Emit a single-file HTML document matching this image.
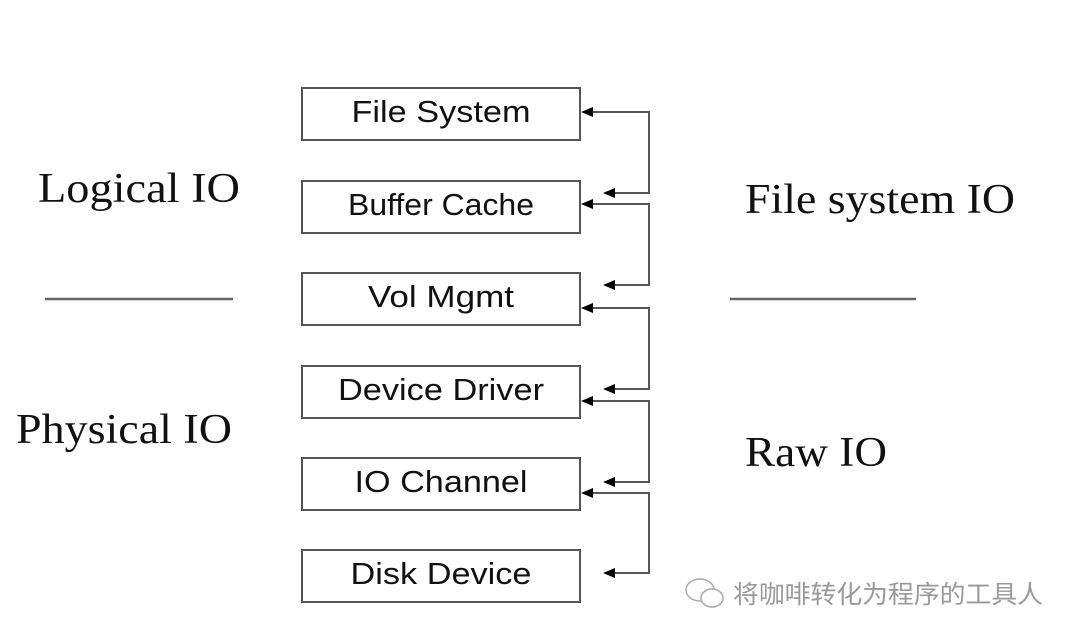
<!DOCTYPE html>
<html><head><meta charset="utf-8"><style>
html,body{margin:0;padding:0;background:#fff;}
svg{display:block;}
</style></head><body>
<svg width="1080" height="642" viewBox="0 0 1080 642" xmlns="http://www.w3.org/2000/svg">
<g fill="#fff" stroke="#555" stroke-width="2">
<rect x="302" y="88" width="278" height="52"/>
<rect x="302" y="181" width="278" height="52"/>
<rect x="302" y="273" width="278" height="52"/>
<rect x="302" y="366" width="278" height="52"/>
<rect x="302" y="458" width="278" height="52"/>
<rect x="302" y="550" width="278" height="52"/>
</g>
<g font-family="Liberation Sans, Arial, sans-serif" font-size="31" fill="#111" text-anchor="middle">
<text x="441" y="122" textLength="179" lengthAdjust="spacingAndGlyphs">File System</text>
<text x="441" y="215" textLength="186" lengthAdjust="spacingAndGlyphs">Buffer Cache</text>
<text x="441" y="307" textLength="146" lengthAdjust="spacingAndGlyphs">Vol Mgmt</text>
<text x="441" y="400" textLength="206" lengthAdjust="spacingAndGlyphs">Device Driver</text>
<text x="441" y="492" textLength="173" lengthAdjust="spacingAndGlyphs">IO Channel</text>
<text x="441" y="584" textLength="181" lengthAdjust="spacingAndGlyphs">Disk Device</text>
</g>
<g stroke="#555" stroke-width="2" fill="none">
<polyline points="592,112 649,112 649,193 614,193"/>
<polyline points="592,204 649,204 649,285 614,285"/>
<polyline points="592,308 649,308 649,389 614,389"/>
<polyline points="592,401 649,401 649,482 614,482"/>
<polyline points="592,493 649,493 649,573 614,573"/>
</g>
<g fill="#000">
<path d="M581,112 L593,107 L593,117 Z"/>
<path d="M581,204 L593,199 L593,209 Z"/>
<path d="M581,308 L593,303 L593,313 Z"/>
<path d="M581,401 L593,396 L593,406 Z"/>
<path d="M581,493 L593,488 L593,498 Z"/>
<path d="M603,193 L615,188 L615,198 Z"/>
<path d="M603,285 L615,280 L615,290 Z"/>
<path d="M603,389 L615,384 L615,394 Z"/>
<path d="M603,482 L615,477 L615,487 Z"/>
<path d="M603,573 L615,568 L615,578 Z"/>
</g>
<g stroke="#666" stroke-width="2.5">
<line x1="45" y1="299" x2="233" y2="299"/>
<line x1="730" y1="299" x2="916" y2="299"/>
</g>
<g font-family="Liberation Serif, Times New Roman, serif" font-size="42" fill="#111">
<text x="38" y="202" textLength="202" lengthAdjust="spacingAndGlyphs">Logical IO</text>
<text x="16" y="443" textLength="216" lengthAdjust="spacingAndGlyphs">Physical IO</text>
<text x="745" y="213" textLength="270" lengthAdjust="spacingAndGlyphs">File system IO</text>
<text x="745" y="466" textLength="142" lengthAdjust="spacingAndGlyphs">Raw IO</text>
</g>
<g stroke="#aaa" stroke-width="1.5" fill="#fff">
<ellipse cx="700" cy="590" rx="14" ry="11"/>
<ellipse cx="712" cy="598" rx="11" ry="9"/>
</g>
<text x="733" y="603" font-family="Liberation Sans, 'Noto Sans CJK SC', sans-serif" font-size="25" fill="#999" textLength="310" lengthAdjust="spacingAndGlyphs">将咖啡转化为程序的工具人</text>
</svg>
</body></html>
